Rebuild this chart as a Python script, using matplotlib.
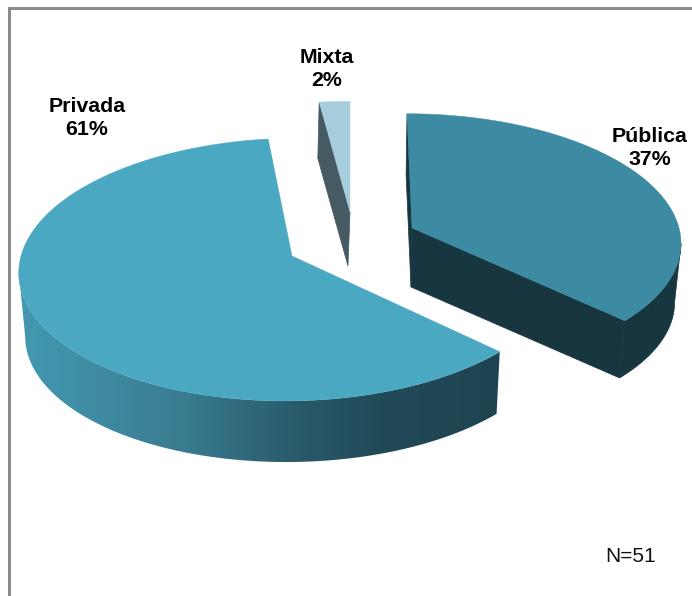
import matplotlib
matplotlib.use("Agg")
import matplotlib.pyplot as plt
from matplotlib.colors import LinearSegmentedColormap
from matplotlib.patches import Polygon
import numpy as np

plt.rcParams["font.family"] = ["Liberation Sans", "DejaVu Sans"]

# chart values, clockwise from 12 o'clock
categories = ["Pública", "Privada", "Mixta"]
values = [37, 61, 2]
note = "N=51"

# look of each slice
top_colors = ["#3c8ba3", "#4aa8c2", "#a5cddc"]
wall_colors = ["#17363f", None, "#465a64"]
apex_xy = [(412, 228), (292, 256), (350, 212)]
radius_x = [267, 271, 271]
radius_y = [126, 130, 122]
back_shift = [-5, 7, 0]
depth = [59, 64, 54]
wall_dx = [-1, 1, -2]
label_xy = [(650, 148), (87, 118), (327, 69)]

PERSPECTIVE = 0.103
BOTTOM_SCALE = 0.98

privada_wall = LinearSegmentedColormap.from_list(
    "privada_wall",
    [(0.0, "#4399b1"), (0.33, "#3a7d92"), (0.57, "#2a5c6b"), (0.75, "#214a58"), (1.0, "#1f4451")],
)


def project(i, theta, bottom=False):
    # unit circle -> picture pixels, the far side of the pie is squeezed
    u, v = np.cos(theta), np.sin(theta)
    s = 1 / (1 + PERSPECTIVE * v)
    x = radius_x[i] * u * s + back_shift[i] * v
    y = -radius_y[i] * v * s
    if bottom:
        return apex_xy[i][0] + wall_dx[i] + BOTTOM_SCALE * x, apex_xy[i][1] + depth[i] + BOTTOM_SCALE * y
    return apex_xy[i][0] + x, apex_xy[i][1] + y


fig = plt.figure(figsize=(6.92, 5.96), dpi=100)
ax = fig.add_axes([0, 0, 1, 1])
ax.axis("off")

# frame, only left and top are in the picture
ax.plot([9, 9, 692], [596, 8, 8], color="#8c8c8c", lw=2.2, solid_joinstyle="miter")

edges = 90 - np.concatenate([[0], np.cumsum(values)]) * 3.6

for i, name in enumerate(categories):
    a0, a1 = np.radians(edges[i]), np.radians(edges[i + 1])
    thetas = np.linspace(a0, a1, 240)
    rim = np.array([project(i, t) for t in thetas])
    center = np.array(apex_xy[i], dtype=float)
    center_low = center + [wall_dx[i], depth[i]]

    # cut walls
    if name == "Pública":
        for a in (a0, a1):
            ax.fill(*zip(center, project(i, a), project(i, a, bottom=True), center_low),
                    color=wall_colors[i], lw=0.5, zorder=2)
    if name == "Mixta":
        ax.fill(*zip(center, project(i, a0), project(i, a0, bottom=True), center_low),
                color=wall_colors[i], lw=0.5, zorder=2)

    # outer wall runs from the cut to the widest point of the rim
    if name == "Pública":
        front = thetas[np.argmax(rim[:, 0]):]
    elif name == "Privada":
        front = thetas[:np.argmin(rim[:, 0]) + 1]
    else:
        front = []
    if len(front):
        outline = [project(i, t) for t in front] + [project(i, t, bottom=True) for t in front[::-1]]
        if wall_colors[i] is None:
            shape = Polygon(outline, closed=True, fc="none", ec="none")
            ax.add_patch(shape)
            gradient = np.linspace(0, 1, 256).reshape(1, -1)
            img = ax.imshow(gradient, extent=[18, 500, 480, 250], cmap=privada_wall,
                            aspect="auto", zorder=2)
            img.set_clip_path(shape)
        else:
            ax.add_patch(Polygon(outline, closed=True, fc=wall_colors[i], ec=wall_colors[i],
                                 lw=0.5, zorder=2))

    # top face
    face = np.vstack([center, rim])
    ax.fill(face[:, 0], face[:, 1], color=top_colors[i], lw=0.3, zorder=3)

    ax.text(*label_xy[i], f"{name}\n{values[i]}%", ha="center", va="center",
            fontsize=15.4, fontweight="bold", color="black", linespacing=1.32, zorder=5)

ax.text(631, 557, note, ha="center", va="center", fontsize=15, color="#111111")

ax.set_xlim(0, 692)
ax.set_ylim(596, 0)

fig.savefig("out.png", dpi=100)
